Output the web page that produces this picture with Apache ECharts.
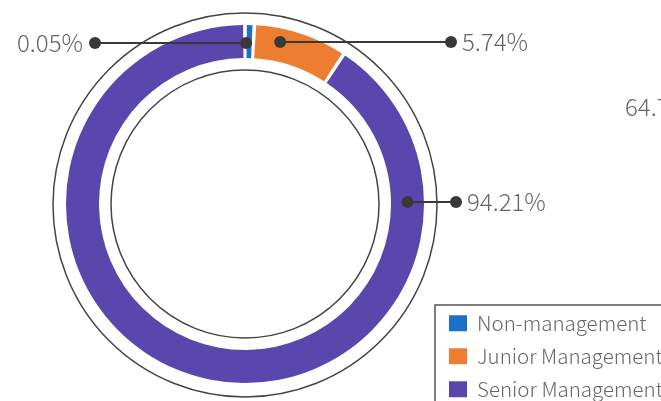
<!DOCTYPE html>
<html>
<head>
<meta charset="utf-8">
<script src="https://cdn.jsdelivr.net/npm/echarts@6/dist/echarts.min.js"></script>
<style>
  html, body { margin: 0; padding: 0; background: #fff; }
  #chart { width: 661px; height: 401px; }
</style>
</head>
<body>
<div id="chart"></div>
<script>
// categories and data
const categories = ['Non-management', 'Junior Management', 'Senior Management']
// arc sizes as drawn in the picture
const arcValues = [0.2, 8.5, 91.3]
// percentages printed on the callouts
const shownPct = ['0.05%', '5.74%', '94.21%']
const colors = ['#1d6fcc', '#ed7d31', '#5a47ae']
// text of the neighbouring chart that is cut off at the right
const cutOffText = '64.75%'

const cx = 245
const cy = 204
const ringInner = 146
const ringOuter = 179
const midR = (ringInner + ringOuter) / 2

// callout anchors: angle (deg, clockwise from top), end x, side of text
const callouts = [
  { angle: 0.4, endX: 95, side: 'left', y: 43 },
  { angle: 12.5, endX: 451, side: 'right', y: 42 },
  { angle: 90, endX: 456, side: 'right', y: 202 }
]

const chart = echarts.init(document.getElementById('chart'))

const graphics = []
// outer and inner thin circles
graphics.push({
  type: 'circle', shape: { cx: cx, cy: cy + 1, r: 192 },
  style: { fill: 'none', stroke: '#444', lineWidth: 1.5 }, z: 1
})
graphics.push({
  type: 'circle', shape: { cx: cx, cy: cy, r: 134 },
  style: { fill: 'none', stroke: '#444', lineWidth: 1.5 }, z: 1
})

callouts.forEach((c, i) => {
  const a = c.angle * Math.PI / 180
  const ax = cx + midR * Math.sin(a)
  const ay = c.y
  graphics.push({
    type: 'line', shape: { x1: ax, y1: ay, x2: c.endX, y2: ay },
    style: { stroke: '#3a3838', lineWidth: 2 }, z: 10
  })
  graphics.push({ type: 'circle', shape: { cx: ax, cy: ay, r: 6 }, style: { fill: '#3a3838' }, z: 11 })
  graphics.push({ type: 'circle', shape: { cx: c.endX, cy: ay, r: 6 }, style: { fill: '#3a3838' }, z: 11 })
  graphics.push({
    type: 'text', z: 11,
    x: c.side === 'left' ? c.endX - 12 : c.endX + 11,
    y: ay,
    style: {
      text: shownPct[i],
      align: c.side === 'left' ? 'right' : 'left',
      verticalAlign: 'middle',
      fill: '#666',
      font: '300 24px "Noto Sans CJK SC"'
    }
  })
})

graphics.push({
  type: 'text', x: 625, y: 107, z: 11,
  style: {
    text: cutOffText, verticalAlign: 'middle', fill: '#666',
    font: '300 24px "Noto Sans CJK SC"'
  }
})

const option = {
  animation: false,
  color: colors,
  legend: {
    orient: 'vertical',
    left: 435,
    top: 305,
    height: 200,
    padding: [8, 12, 10, 14],
    borderColor: '#555',
    borderWidth: 1.5,
    itemWidth: 18,
    itemHeight: 16,
    itemGap: 12.5,
    icon: 'rect',
    data: categories,
    textStyle: {
      fontFamily: 'Noto Sans CJK SC',
      fontWeight: 300,
      fontSize: 20.5,
      color: '#666',
      padding: [0, 0, 0, 5]
    }
  },
  graphic: graphics,
  series: [
    {
      type: 'pie',
      center: [cx, cy],
      radius: [ringInner, ringOuter],
      startAngle: 90,
      clockwise: true,
      padAngle: 1.2,
      minAngle: 1.8,
      avoidLabelOverlap: false,
      label: { show: false },
      labelLine: { show: false },
      emphasis: { disabled: true },
      data: categories.map((name, i) => ({ name: name, value: arcValues[i] }))
    }
  ]
}

chart.setOption(option)
</script>
</body>
</html>
